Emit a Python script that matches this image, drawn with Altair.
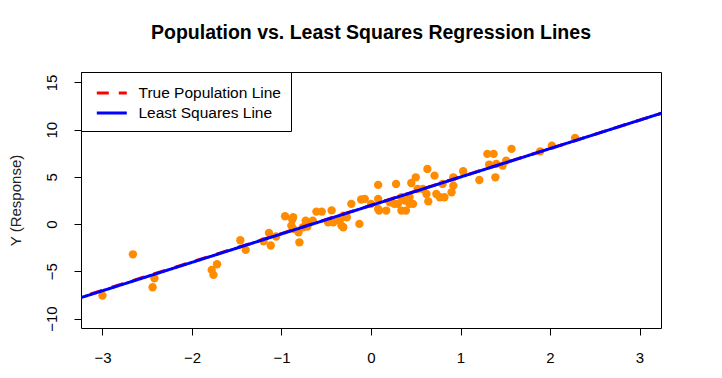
import altair as alt
import pandas as pd

# ---- data ----
x_vals = [-3.00, -2.66, -2.42, -2.44, -1.78, -1.76, -1.72, -1.46, -1.40, -1.14,
          -1.20, -1.12, -1.06, -0.96, -0.87, -0.88, -0.89, -0.87, -0.81, -0.80,
          -0.76, -0.73, -0.65, -0.71, -0.61, -0.55, -0.44, -0.48, -0.42, -0.35,
          -0.33, -0.31, -0.27, -0.22, -0.13, -0.11, -0.07, -0.31, 0.00, 0.08,
          0.08, 0.08, 0.09, 0.17, 0.21, 0.28, 0.26, 0.30, 0.34, 0.34,
          0.38, 0.39, 0.43, 0.43, 0.45, 0.50, 0.47, 0.52, 0.58, 0.62,
          0.63, 0.64, 0.71, 0.73, 0.77, 0.82, 0.80, 0.90, 0.92, 0.92,
          1.03, 1.21, 1.30, 1.37, 1.32, 1.40, 1.39, 1.47, 1.51, 1.57,
          1.89, 2.02, 2.28]
y_vals = [-7.57, -3.20, -5.73, -6.69, -4.85, -5.38, -4.25, -1.71, -2.73, -0.93,
          -1.82, -2.27, -1.32, 0.83, 0.72, 0.48, -0.16, -0.50, -0.87, -1.93,
          -0.34, 0.37, 0.37, -0.26, 1.32, 1.32, 1.45, 0.20, 0.20, 0.37,
          -0.16, -0.34, 0.72, 2.14, 0.02, 2.60, 2.67, 0.90, 2.14, 1.60,
          4.15, 2.67, 1.43, 1.43, 2.31, 4.25, 2.14, 2.14, 2.84, 1.43,
          2.49, 1.43, 2.14, 2.84, 4.35, 4.95, 2.14, 3.72, 3.72, 3.19,
          5.84, 2.40, 5.13, 3.19, 2.84, 2.84, 4.25, 3.37, 4.95, 4.07,
          5.59, 4.67, 7.43, 7.43, 6.30, 6.37, 4.95, 6.19, 6.72, 7.96,
          7.70, 8.30, 9.12]

line_names = ["True Population Line", "Least Squares Line"]
line_intercepts = [2.0, 1.97]
line_slopes = [3.0, 3.01]
line_colors = ["#FF0000", "#0000FF"]
line_x_ends = [-3.6, 3.6]

x_ticks = [-3, -2, -1, 0, 1, 2, 3]
y_ticks = [-10, -5, 0, 5, 10, 15]
x_domain = [-3.24, 3.24]
y_domain = [-11.0, 16.1]

pts = pd.DataFrame({"x": x_vals, "y": y_vals})
rows = []
for n, a, b in zip(line_names, line_intercepts, line_slopes):
    for xe in line_x_ends:
        rows.append({"series": n, "x": xe, "y": a + b * xe})
lines = pd.DataFrame(rows)

FONT = "Liberation Sans"
xscale = alt.Scale(domain=x_domain, nice=False, zero=False)
yscale = alt.Scale(domain=y_domain, nice=False, zero=False)

xaxis = alt.Axis(values=x_ticks, title=None, grid=False, domain=False,
                 tickColor="black", tickSize=7, tickWidth=1,
                 labelFontSize=15, labelFont=FONT, labelColor="black",
                 labelPadding=15, format="d")
yaxis = alt.Axis(values=y_ticks, title="Y (Response)", grid=False, domain=False,
                 tickColor="black", tickSize=7, tickWidth=1,
                 labelFontSize=15, labelFont=FONT, labelColor="black",
                 labelAngle=270, labelAlign="center", labelBaseline="bottom",
                 labelPadding=15, format="d",
                 titleFontSize=15, titleFont=FONT, titleFontWeight="normal",
                 titleColor="#222222", titleAngle=270, titleX=-58, titleY=128,
                 titleAlign="center", titleBaseline="bottom")

legend = alt.Legend(title=None, orient="top-left", offset=0, padding=9.5,
                    strokeColor="black", fillColor="white", cornerRadius=0,
                    symbolType="M-0.52,0H2.48", symbolSize=400, symbolStrokeWidth=3,
                    labelFontSize=15.5, labelFont=FONT, labelColor="black",
                    labelOffset=25, rowPadding=0)

color_scale = alt.Scale(domain=line_names, range=line_colors)
dash_scale = alt.Scale(domain=line_names, range=[[12, 10], [1, 0]])

points = alt.Chart(pts).mark_circle(size=70, color="#FF8C00", opacity=1).encode(
    x=alt.X("x:Q", scale=xscale, axis=xaxis),
    y=alt.Y("y:Q", scale=yscale, axis=yaxis),
)


def line_layer(name):
    return alt.Chart(lines).transform_filter(alt.datum.series == name).mark_line(
        strokeWidth=3, clip=True
    ).encode(
        x=alt.X("x:Q", scale=xscale, axis=xaxis),
        y=alt.Y("y:Q", scale=yscale, axis=yaxis),
        color=alt.Color("series:N", scale=color_scale, legend=legend),
        strokeDash=alt.StrokeDash("series:N", scale=dash_scale, legend=legend),
    )


chart = alt.layer(points, line_layer(line_names[0]), line_layer(line_names[1])).properties(
    width=580,
    height=256,
    background="white",
    autosize=alt.AutoSizeParams(type="none"),
    padding={"left": 73, "top": 64, "right": 45, "bottom": 48},
    title=alt.Title("Population vs. Least Squares Regression Lines", fontSize=19.5,
                    font=FONT, fontWeight="bold", color="black", anchor="middle",
                    offset=28),
).configure_view(stroke="black", strokeWidth=1)

chart.save("out.html", embed_options={"renderer": "svg", "actions": False})
